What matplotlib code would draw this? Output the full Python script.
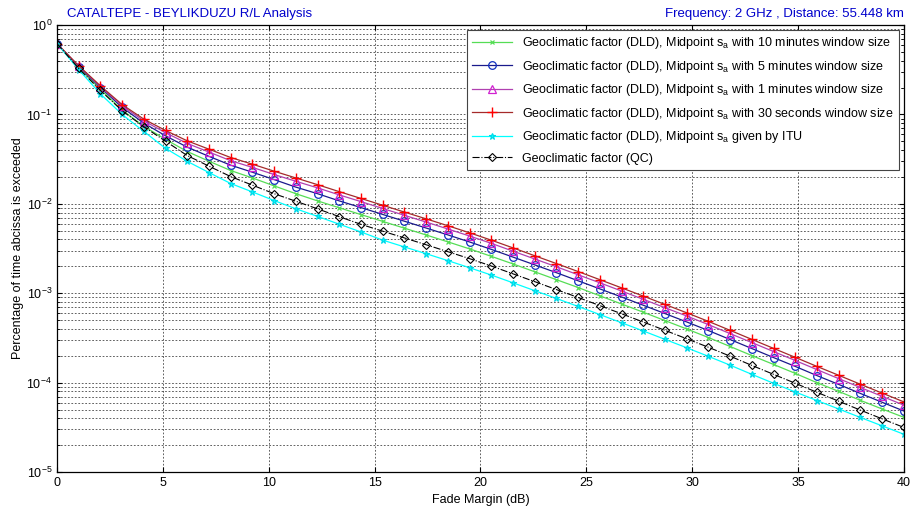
import numpy as np
import matplotlib.pyplot as plt
from matplotlib.ticker import LogLocator, NullFormatter

plt.rcParams['font.family'] = ['Liberation Sans', 'DejaVu Sans']
plt.rcParams['mathtext.default'] = 'regular'

# fade margin in dB, 40 samples between 0 and 40
fade_margin = np.linspace(0, 40, 40)

p_10min = [0.62, 0.335, 0.191, 0.112, 0.0738, 0.0526, 0.0385, 0.030, 0.0236, 0.0195,
           0.0159, 0.013, 0.0108, 0.00904, 0.00759, 0.00637, 0.00535, 0.00449, 0.00376, 0.00314,
           0.00259, 0.00213, 0.00174, 0.00142, 0.00116, 0.000937, 0.000759, 0.000614, 0.000495, 0.000399,
           0.00032, 0.000254, 0.000201, 0.00016, 0.000127, 0.0001, 0.0000799, 0.0000634, 0.0000508, 0.000041]
p_5min = [0.62, 0.343, 0.20, 0.120, 0.080, 0.0577, 0.0431, 0.034, 0.0271, 0.0226,
          0.0187, 0.0154, 0.013, 0.0108, 0.00909, 0.00762, 0.0064, 0.00537, 0.0045, 0.00375,
          0.0031, 0.00254, 0.00208, 0.0017, 0.00138, 0.00112, 0.000909, 0.000735, 0.000593, 0.000478,
          0.000383, 0.000304, 0.000241, 0.000191, 0.000152, 0.00012, 0.0000956, 0.0000758, 0.0000604, 0.0000482]
p_1min = [0.62, 0.347, 0.205, 0.125, 0.0847, 0.0626, 0.0474, 0.038, 0.0304, 0.0256,
          0.0213, 0.0179, 0.0151, 0.0126, 0.0106, 0.00888, 0.00745, 0.00626, 0.00524, 0.00437,
          0.00362, 0.00296, 0.00242, 0.00198, 0.00161, 0.00131, 0.00106, 0.000856, 0.00069, 0.000557,
          0.000446, 0.000354, 0.000281, 0.000223, 0.000177, 0.00014, 0.000111, 0.0000883, 0.0000704, 0.0000561]
p_30sec = [0.62, 0.351, 0.209, 0.129, 0.0887, 0.0662, 0.0507, 0.0409, 0.033, 0.0278,
           0.0232, 0.0195, 0.0164, 0.0137, 0.0115, 0.00965, 0.0081, 0.0068, 0.0057, 0.00475,
           0.00393, 0.00322, 0.00263, 0.00215, 0.00175, 0.00142, 0.00115, 0.00093, 0.00075, 0.000605,
           0.000485, 0.000385, 0.000305, 0.000242, 0.000192, 0.000152, 0.000121, 0.000096, 0.0000765, 0.000061]
p_itu = [0.62, 0.317, 0.17, 0.10, 0.0646, 0.0418, 0.0299, 0.0224, 0.0169, 0.0136,
         0.0109, 0.00881, 0.00725, 0.00592, 0.00485, 0.00393, 0.0033, 0.00277, 0.00232, 0.00193,
         0.0016, 0.00131, 0.00107, 0.000875, 0.000712, 0.000578, 0.000468, 0.000379, 0.000305, 0.000246,
         0.000197, 0.000157, 0.000124, 0.0000985, 0.0000787, 0.0000631, 0.0000508, 0.0000408, 0.0000329, 0.0000265]
p_qc = [0.62, 0.327, 0.186, 0.11, 0.0729, 0.0502, 0.0347, 0.0264, 0.0202, 0.0162,
        0.013, 0.0107, 0.0088, 0.00719, 0.0059, 0.00495, 0.00416, 0.00349, 0.00292, 0.00244,
        0.00202, 0.00165, 0.00135, 0.0011, 0.000898, 0.000728, 0.00059, 0.000477, 0.000385, 0.00031,
        0.000249, 0.000198, 0.000156, 0.000124, 0.0000985, 0.000078, 0.0000621, 0.0000493, 0.0000394, 0.0000316]

lbl = 'Geoclimatic factor (DLD), Midpoint s$_a$ '

fig = plt.figure(figsize=(9.12, 5.12), dpi=100)
ax = fig.add_axes([0.0625, 0.078, 0.9285, 0.873])

ax.semilogy(fade_margin, p_10min, '-x', color='#55dd55', lw=0.9, ms=3.5, mew=0.9,
            label=lbl + 'with 10 minutes window size')
ax.semilogy(fade_margin, p_5min, '-o', color='#1a1a8c', mec='#1030c0', mfc='none', lw=0.9, ms=5.5, mew=0.9,
            label=lbl + 'with 5 minutes window size')
ax.semilogy(fade_margin, p_1min, '-^', color='#b040b0', mec='#d020d0', mfc='none', lw=0.9, ms=5.5, mew=0.9,
            label=lbl + 'with 1 minutes window size')
ax.semilogy(fade_margin, p_30sec, '-+', color='#a52a2a', mec='red', lw=0.9, ms=7, mew=1.0,
            label=lbl + 'with 30 seconds window size')
ax.semilogy(fade_margin, p_itu, '-*', color='cyan', mec='#00d8e8', lw=0.9, ms=4.5, mew=0.8,
            label=lbl + 'given by ITU')
ax.semilogy(fade_margin, p_qc, '-.D', color='black', mfc='none', lw=0.8, ms=4.5, mew=0.8,
            label='Geoclimatic factor (QC)')

ax.set_xlim(0, 40)
ax.set_ylim(1e-5, 1)
ax.set_xticks(np.arange(0, 41, 5))
ax.yaxis.set_major_locator(LogLocator(base=10, numticks=10))
ax.yaxis.set_minor_locator(LogLocator(base=10, subs=np.arange(2, 10), numticks=10))
ax.yaxis.set_minor_formatter(NullFormatter())

ax.grid(True, which='major', axis='both', color='#222222', ls=(0, (2.5, 2.5)), lw=0.5)
ax.grid(True, which='minor', axis='y', color='#222222', ls=(0, (2.5, 2.5)), lw=0.5)
ax.tick_params(which='both', direction='in', top=True, right=True, labelsize=9)
for s in ax.spines.values():
    s.set_linewidth(0.9)

ax.set_xlabel('Fade Margin (dB)', fontsize=9, labelpad=4)
ax.set_ylabel('Percentage of time abcissa is exceeded', fontsize=9, labelpad=2)

fig.text(0.073, 0.972, 'CATALTEPE - BEYLIKDUZU R/L Analysis', color='#0000cc', fontsize=9.5, va='center')
fig.text(0.991, 0.972, 'Frequency: 2 GHz , Distance: 55.448 km', color='#0000cc', fontsize=9.5,
         va='center', ha='right')

leg = ax.legend(loc='upper right', fontsize=9, fancybox=False, framealpha=1, edgecolor='#444444',
                handlelength=3.2, labelspacing=0.6, borderaxespad=0.4, borderpad=0.4)
leg.get_frame().set_linewidth(0.8)

fig.savefig('out.png', dpi=100)
